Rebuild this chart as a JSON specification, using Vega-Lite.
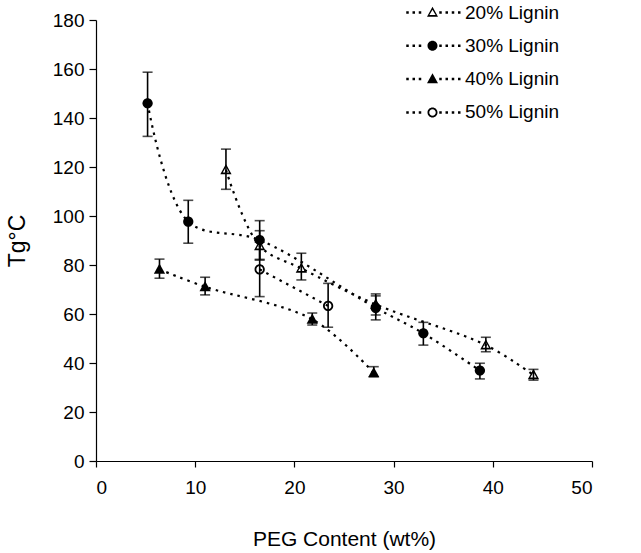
{
  "$schema": "https://vega.github.io/schema/vega-lite/v6.json",
  "autosize": "none",
  "width": 496,
  "height": 441,
  "padding": {"left": 96, "top": 20, "right": 49, "bottom": 92},
  "background": "white",
  "config": {
    "view": {"stroke": null},
    "font": "Liberation Sans",
    "axis": {
      "grid": false,
      "domainColor": "black",
      "domainWidth": 1.2,
      "tickColor": "black",
      "tickWidth": 1.2,
      "labelColor": "black",
      "titleColor": "black",
      "labelFont": "Liberation Sans",
      "titleFont": "Liberation Sans",
      "titleFontWeight": "normal"
    }
  },
  "data": {
    "values": [
      {"series": "20% Lignin", "x": 13.1, "y": 118.8, "lo": 110.9, "hi": 127.3},
      {"series": "20% Lignin", "x": 16.5, "y": 87.8, "lo": 82.0, "hi": 94.0},
      {"series": "20% Lignin", "x": 20.7, "y": 78.6, "lo": 73.9, "hi": 84.8},
      {"series": "20% Lignin", "x": 28.2, "y": 63.9, "lo": 59.6, "hi": 68.2},
      {"series": "20% Lignin", "x": 39.3, "y": 47.3, "lo": 44.6, "hi": 50.5},
      {"series": "20% Lignin", "x": 44.1, "y": 35.1, "lo": 33.0, "hi": 37.4},
      {"series": "30% Lignin", "x": 5.2, "y": 146.0, "lo": 132.5, "hi": 158.7},
      {"series": "30% Lignin", "x": 9.3, "y": 97.7, "lo": 88.9, "hi": 106.4},
      {"series": "30% Lignin", "x": 16.5, "y": 90.2, "lo": 82.3, "hi": 98.1},
      {"series": "30% Lignin", "x": 28.2, "y": 62.5, "lo": 57.6, "hi": 67.4},
      {"series": "30% Lignin", "x": 33.0, "y": 52.1, "lo": 47.3, "hi": 56.6},
      {"series": "30% Lignin", "x": 38.7, "y": 36.9, "lo": 33.5, "hi": 39.9},
      {"series": "40% Lignin", "x": 6.4, "y": 78.2, "lo": 74.6, "hi": 82.4},
      {"series": "40% Lignin", "x": 11.0, "y": 71.1, "lo": 67.8, "hi": 75.0},
      {"series": "40% Lignin", "x": 21.8, "y": 57.8, "lo": 55.5, "hi": 60.4},
      {"series": "40% Lignin", "x": 28.0, "y": 36.0, "lo": 34.4, "hi": 38.5},
      {"series": "50% Lignin", "x": 16.5, "y": 78.2, "lo": 67.1, "hi": 89.3},
      {"series": "50% Lignin", "x": 23.4, "y": 63.3, "lo": 54.6, "hi": 72.5}
    ]
  },
  "resolve": {"scale": {"shape": "independent"}, "legend": {"shape": "independent"}},
  "layer": [
    {
      "mark": {"type": "line", "color": "black", "strokeWidth": 2.2, "strokeDash": [2.5, 5], "interpolate": "catmull-rom"},
      "encoding": {
        "x": {"field": "x", "type": "quantitative", "scale": {"domain": [0, 50], "nice": false},
          "axis": {"values": [0, 10, 20, 30, 40, 50], "title": "PEG Content (wt%)", "labelFontSize": 19, "titleFontSize": 21, "tickSize": 6, "labelPadding": 11, "titlePadding": 31}},
        "y": {"field": "y", "type": "quantitative", "scale": {"domain": [0, 180], "nice": false},
          "axis": {"values": [0, 20, 40, 60, 80, 100, 120, 140, 160, 180], "title": "Tg°C", "labelFontSize": 19, "titleFontSize": 23, "tickSize": 7, "labelPadding": 5, "titlePadding": 23}},
        "detail": {"field": "series"}
      }
    },
    {
      "mark": {"type": "rule", "color": "black", "strokeWidth": 1.6},
      "encoding": {
        "x": {"field": "x", "type": "quantitative"},
        "y": {"field": "lo", "type": "quantitative"},
        "y2": {"field": "hi"}
      }
    },
    {
      "mark": {"type": "tick", "orient": "horizontal", "color": "black", "size": 10, "thickness": 1.6},
      "encoding": {
        "x": {"field": "x", "type": "quantitative"},
        "y": {"field": "lo", "type": "quantitative"}
      }
    },
    {
      "mark": {"type": "tick", "orient": "horizontal", "color": "black", "size": 10, "thickness": 1.6},
      "encoding": {
        "x": {"field": "x", "type": "quantitative"},
        "y": {"field": "hi", "type": "quantitative"}
      }
    },
    {
      "mark": {"type": "point", "filled": true, "color": "black", "size": 105, "opacity": 1, "strokeWidth": 0},
      "encoding": {
        "x": {"field": "x", "type": "quantitative"},
        "y": {"field": "y", "type": "quantitative"},
        "shape": {"field": "series", "type": "nominal", "legend": null,
          "scale": {"domain": ["20% Lignin", "30% Lignin", "40% Lignin", "50% Lignin"],
            "range": [
              "M0,-1.15L1.1,0.85L-1.1,0.85ZM0,-0.55L-0.62,0.5L0.62,0.5Z",
              "M-1,0A1,1,0,1,1,1,0A1,1,0,1,1,-1,0Z",
              "M0,-1.15L1.1,0.85L-1.1,0.85Z",
              "M-1,0A1,1,0,1,1,1,0A1,1,0,1,1,-1,0ZM-0.65,0A0.65,0.65,0,1,0,0.65,0A0.65,0.65,0,1,0,-0.65,0Z"
            ]}}
      }
    },
    {
      "mark": {"type": "point", "filled": true, "color": "black", "size": 100, "opacity": 0, "strokeWidth": 0},
      "encoding": {
        "x": {"field": "x", "type": "quantitative"},
        "y": {"field": "y", "type": "quantitative"},
        "shape": {"field": "series", "type": "nominal",
          "scale": {"domain": ["20% Lignin", "30% Lignin", "40% Lignin", "50% Lignin"],
            "range": [
              "M0,-1.15L1.1,0.85L-1.1,0.85ZM0,-0.55L-0.62,0.5L0.62,0.5ZM-5.25,-0.25h0.5v0.5h-0.5ZM-4.0,-0.25h0.5v0.5h-0.5ZM-2.75,-0.25h0.5v0.5h-0.5ZM1.35,-0.25h0.5v0.5h-0.5ZM2.6,-0.25h0.5v0.5h-0.5ZM3.85,-0.25h0.5v0.5h-0.5ZM5.1,-0.25h0.5v0.5h-0.5Z",
              "M-1,0A1,1,0,1,1,1,0A1,1,0,1,1,-1,0ZM-5.25,-0.25h0.5v0.5h-0.5ZM-4.0,-0.25h0.5v0.5h-0.5ZM-2.75,-0.25h0.5v0.5h-0.5ZM1.35,-0.25h0.5v0.5h-0.5ZM2.6,-0.25h0.5v0.5h-0.5ZM3.85,-0.25h0.5v0.5h-0.5ZM5.1,-0.25h0.5v0.5h-0.5Z",
              "M0,-1.15L1.1,0.85L-1.1,0.85ZM-5.25,-0.25h0.5v0.5h-0.5ZM-4.0,-0.25h0.5v0.5h-0.5ZM-2.75,-0.25h0.5v0.5h-0.5ZM1.35,-0.25h0.5v0.5h-0.5ZM2.6,-0.25h0.5v0.5h-0.5ZM3.85,-0.25h0.5v0.5h-0.5ZM5.1,-0.25h0.5v0.5h-0.5Z",
              "M-1,0A1,1,0,1,1,1,0A1,1,0,1,1,-1,0ZM-0.65,0A0.65,0.65,0,1,0,0.65,0A0.65,0.65,0,1,0,-0.65,0ZM-5.25,-0.25h0.5v0.5h-0.5ZM-4.0,-0.25h0.5v0.5h-0.5ZM-2.75,-0.25h0.5v0.5h-0.5ZM1.35,-0.25h0.5v0.5h-0.5ZM2.6,-0.25h0.5v0.5h-0.5ZM3.85,-0.25h0.5v0.5h-0.5ZM5.1,-0.25h0.5v0.5h-0.5Z"
            ]},
          "legend": {"orient": "none", "legendX": 327, "legendY": -17, "title": null, "labelFontSize": 19, "labelColor": "black", "labelFont": "Liberation Sans", "labelOffset": 23, "rowPadding": 13.3, "symbolSize": 100, "symbolOpacity": 1, "symbolFillColor": "black", "symbolStrokeWidth": 0, "padding": 0}}
      }
    }
  ]
}
